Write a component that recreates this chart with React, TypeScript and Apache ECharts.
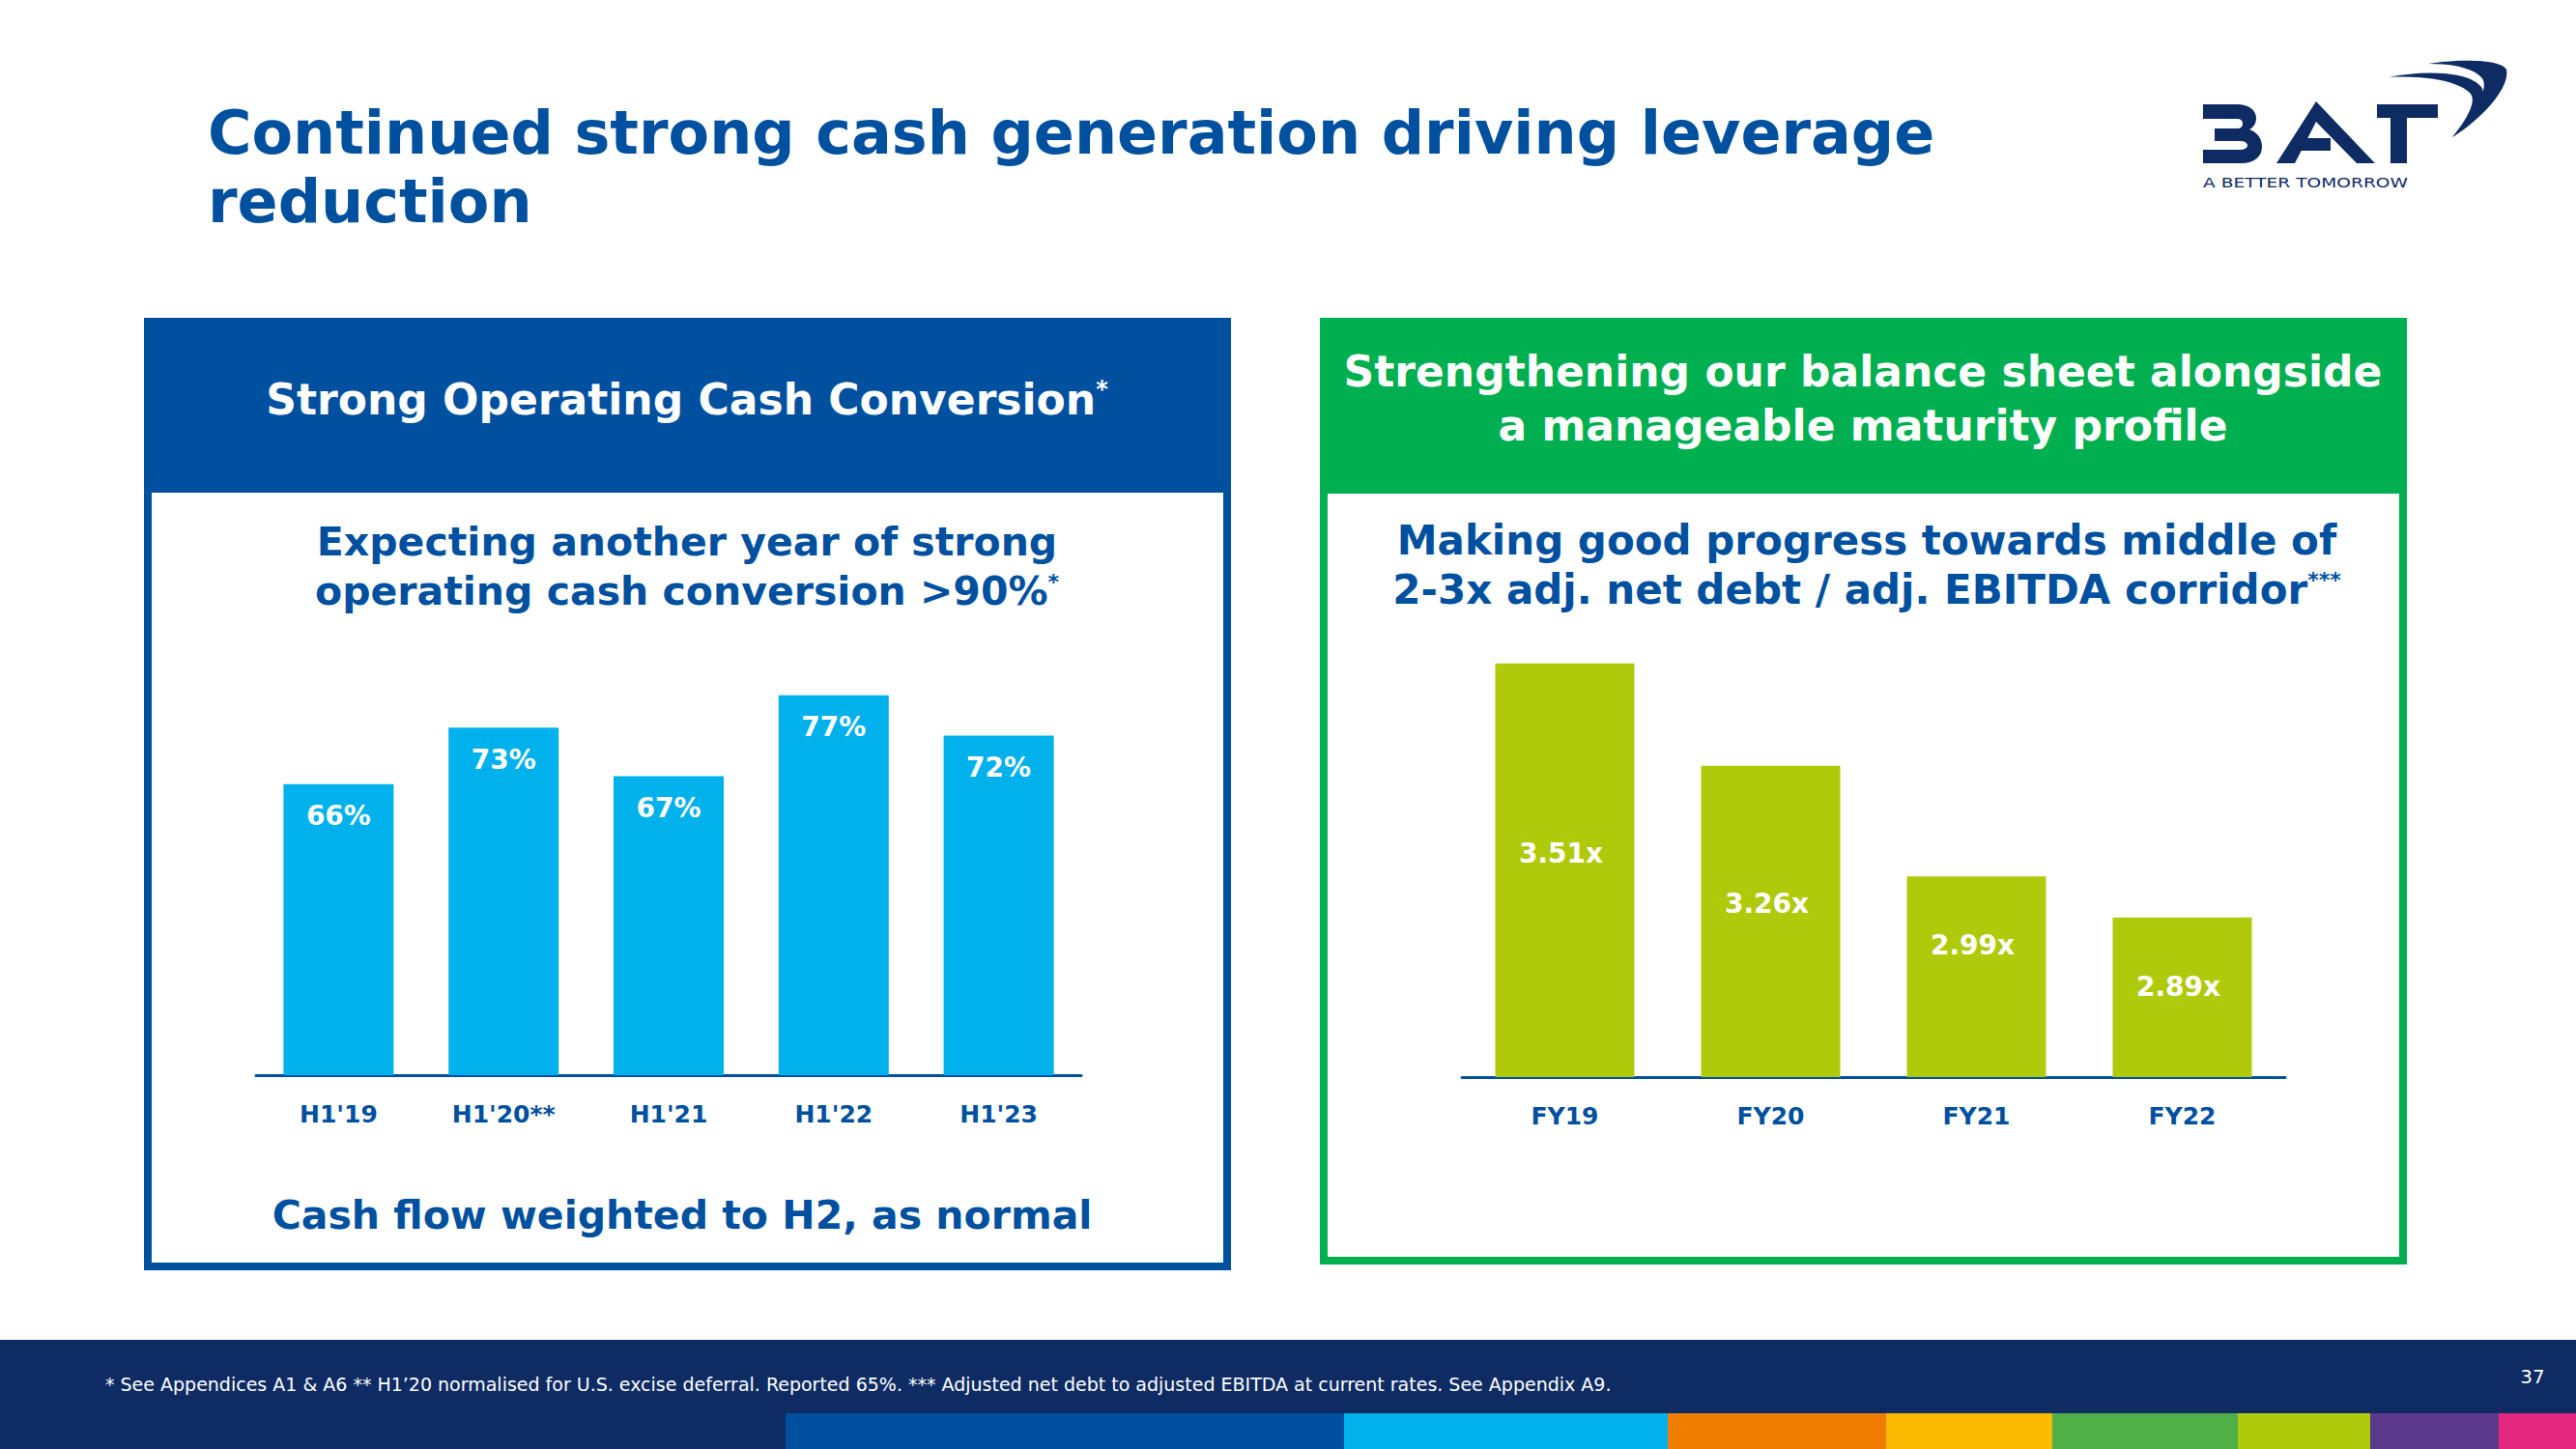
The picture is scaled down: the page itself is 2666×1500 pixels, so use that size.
import React, { useEffect, useRef } from "react";
import * as echarts from "echarts";

// ---------- data ----------
const cashCategories = ["H1'19", "H1'20**", "H1'21", "H1'22", "H1'23"];
const cashConversion = [66, 73, 67, 77, 72];
const leverageCategories = ["FY19", "FY20", "FY21", "FY22"];
const leverageValues = [3.51, 3.26, 2.99, 2.89];

const titleLines = ["Continued strong cash generation driving leverage", "reduction"];
const leftHeader = "Strong Operating Cash Conversion";
const rightHeaderLines = ["Strengthening our balance sheet alongside", "a manageable maturity profile"];
const leftSubLines = ["Expecting another year of strong", "operating cash conversion >90%"];
const rightSubLines = ["Making good progress towards middle of", "2-3x adj. net debt / adj. EBITDA corridor"];
const leftFooterNote = "Cash flow weighted to H2, as normal";
const footnote =
  "* See Appendices A1 & A6 ** H1\u201920 normalised for U.S. excise deferral. Reported 65%. *** Adjusted net debt to adjusted EBITDA at current rates. See Appendix A9.";
const pageNumber = "37";

// ---------- styling ----------
const FONT = "'DejaVu Sans', sans-serif";
const BLUE = "#0050A0";
const GREEN = "#00AF4F";
const NAVY = "#0E2B63";
const CYAN = "#00B1EB";
const LIME = "#AFCA0B";
const leverageLabelShift = [-17, -18, -33, -11];

const B_PATH =
  "M0,0 H35 C47,0 55,6 55,14 C55,20 52,24 48,26 C56,29 61,35 61,44 C61,54 53,61 40,61 H0 V47 H38 C43,47 46,45 46,42.5 C46,40 43,38 38,38 H12 V25 H35 C39,25 41,23 41,20 C41,17 39,15 35,15 H0 Z";
const SWOOSH_OUTER =
  "M53,6 C90,0 130,2 134,12 C138,30 110,62 78,82 C100,58 118,30 108,20 C98,10 78,6 53,6 Z";
const SWOOSH_INNER =
  "M12,20 C50,12 95,14 108,30 C116,42 100,66 78,82 C94,62 104,44 96,36 C84,24 50,18 12,20 Z";

let registered = false;
function registerShapes() {
  if (registered) return;
  registered = true;
  echarts.graphic.registerShape("batB", echarts.graphic.extendPath(B_PATH, {}) as any);
  echarts.graphic.registerShape("swooshOuter", echarts.graphic.extendPath(SWOOSH_OUTER, {}) as any);
  echarts.graphic.registerShape("swooshInner", echarts.graphic.extendPath(SWOOSH_INNER, {}) as any);
}

function txt(x: number, y: number, text: string, opts: any = {}) {
  const { rich, align = "center", size = 42, color = BLUE, weight = "bold", z = 10, scaleX = 1 } = opts;
  return {
    type: "text",
    x,
    y,
    z,
    scaleX,
    style: {
      text,
      fill: color,
      fontSize: size,
      fontWeight: weight,
      fontFamily: FONT,
      align,
      verticalAlign: "middle",
      textAlign: align,
      textVerticalAlign: "middle",
      rich,
    },
  };
}

export default function App() {
  const ref = useRef<HTMLDivElement>(null);

  useEffect(() => {
    if (!ref.current) return;
    registerShapes();
    const chart = echarts.init(ref.current, null, { renderer: "svg" });

    const supRich = (size: number, color: string) => ({
      s: { fontSize: size, fill: color, fontWeight: "bold", fontFamily: FONT, verticalAlign: "top" },
    });

    const strip = [
      [813, 1391, "#0050A0"],
      [1391, 1726, "#00B1EB"],
      [1726, 1952, "#EF7D00"],
      [1952, 2124, "#FBBA00"],
      [2124, 2316, "#50AF47"],
      [2316, 2453, "#AFCA0B"],
      [2453, 2586, "#5B3A8E"],
      [2586, 2666, "#E5287F"],
    ] as [number, number, string][];

    const graphic: any[] = [
      // title
      txt(215, 137, titleLines[0], { align: "left", size: 62 }),
      txt(215, 208, titleLines[1], { align: "left", size: 62 }),

      // logo
      { type: "batB", x: 2280, y: 108, shape: {}, style: { fill: NAVY } },
      {
        type: "polygon",
        shape: { points: [[2397, 105], [2458, 169], [2439, 169], [2397, 126], [2375, 169], [2356, 169]] },
        style: { fill: NAVY },
      },
      {
        type: "polygon",
        shape: { points: [[2380, 143], [2412, 143], [2412, 156], [2371, 156]] },
        style: { fill: NAVY },
      },
      { type: "rect", shape: { x: 2460, y: 108, width: 63, height: 14 }, style: { fill: NAVY } },
      { type: "rect", shape: { x: 2474, y: 108, width: 17, height: 61 }, style: { fill: NAVY } },
      { type: "swooshOuter", x: 2460, y: 60, shape: {}, style: { fill: NAVY } },
      { type: "swooshInner", x: 2460, y: 60, shape: {}, style: { fill: NAVY } },
      txt(2280, 189, "A BETTER TOMORROW", { align: "left", size: 14, color: NAVY, weight: "normal", scaleX: 1.33 }),

      // left panel
      { type: "rect", z: 1, shape: { x: 149, y: 329, width: 1125, height: 181 }, style: { fill: BLUE } },
      {
        type: "rect",
        z: 1,
        shape: { x: 153, y: 333, width: 1117, height: 978 },
        style: { fill: "none", stroke: BLUE, lineWidth: 8 },
      },
      txt(711, 413, leftHeader + "{s|*}", { size: 44, color: "#fff", rich: supRich(24, "#fff") }),
      txt(711, 561, leftSubLines[0], { size: 41 }),
      txt(711, 612, leftSubLines[1] + "{s|*}", { size: 41, rich: supRich(22, BLUE) }),
      txt(706, 1258, leftFooterNote, { size: 41 }),

      // right panel
      { type: "rect", z: 1, shape: { x: 1366, y: 329, width: 1125, height: 182 }, style: { fill: GREEN } },
      {
        type: "rect",
        z: 1,
        shape: { x: 1370, y: 333, width: 1117, height: 972 },
        style: { fill: "none", stroke: GREEN, lineWidth: 8 },
      },
      txt(1928, 384, rightHeaderLines[0], { size: 44, color: "#fff" }),
      txt(1928, 440, rightHeaderLines[1], { size: 44, color: "#fff" }),
      txt(1932, 559, rightSubLines[0], { size: 42 }),
      txt(1932, 610, rightSubLines[1] + "{s|***}", { size: 42, rich: supRich(22, BLUE) }),

      // footer
      { type: "rect", z: 1, shape: { x: 0, y: 1387, width: 2666, height: 113 }, style: { fill: NAVY } },
      ...strip.map(([a, b, c]) => ({
        type: "rect",
        z: 2,
        shape: { x: a, y: 1463, width: b - a, height: 37 },
        style: { fill: c },
      })),
      txt(109, 1433, footnote, { align: "left", size: 19, color: "#fff", weight: "normal" }),
      txt(2621, 1425, pageNumber, { size: 20, color: "#fff", weight: "normal" }),
    ];

    const axisLabel = {
      color: BLUE,
      fontWeight: "bold",
      fontSize: 25,
      fontFamily: FONT,
      margin: 28,
    };

    chart.setOption({
      animation: false,
      backgroundColor: "#ffffff",
      graphic,
      grid: [
        { left: 265, top: 611, width: 854, height: 502 },
        { left: 1513, top: 585, width: 852, height: 530 },
      ],
      xAxis: [
        {
          type: "category",
          gridIndex: 0,
          data: cashCategories,
          axisLine: { lineStyle: { color: BLUE, width: 3 } },
          axisTick: { show: false },
          axisLabel,
        },
        {
          type: "category",
          gridIndex: 1,
          data: leverageCategories,
          axisLine: { lineStyle: { color: BLUE, width: 3 } },
          axisTick: { show: false },
          axisLabel,
        },
      ],
      yAxis: [
        { type: "value", gridIndex: 0, min: 30, max: 90, show: false, splitLine: { show: false } },
        { type: "value", gridIndex: 1, min: 2.5, max: 3.75, show: false, splitLine: { show: false } },
      ],
      series: [
        {
          type: "bar",
          xAxisIndex: 0,
          yAxisIndex: 0,
          data: cashConversion,
          barWidth: 114,
          itemStyle: { color: CYAN },
          label: {
            show: true,
            position: "insideTop",
            distance: 19,
            formatter: (p: any) => `${p.value}%`,
            color: "#fff",
            fontWeight: "bold",
            fontSize: 28,
            fontFamily: FONT,
          },
        },
        {
          type: "bar",
          xAxisIndex: 1,
          yAxisIndex: 1,
          data: leverageValues.map((v, i) => ({ value: v, label: { offset: [-4, leverageLabelShift[i]] } })),
          barWidth: 144,
          itemStyle: { color: LIME },
          label: {
            show: true,
            position: "inside",
            formatter: (p: any) => `${Number(p.value).toFixed(2)}x`,
            color: "#fff",
            fontWeight: "bold",
            fontSize: 28,
            fontFamily: FONT,
          },
        },
      ],
    });

    return () => chart.dispose();
  }, []);

  return (
    <div
      ref={ref}
      style={{ position: "fixed", left: 0, top: 0, width: 2666, height: 1500, background: "#fff" }}
    />
  );
}
